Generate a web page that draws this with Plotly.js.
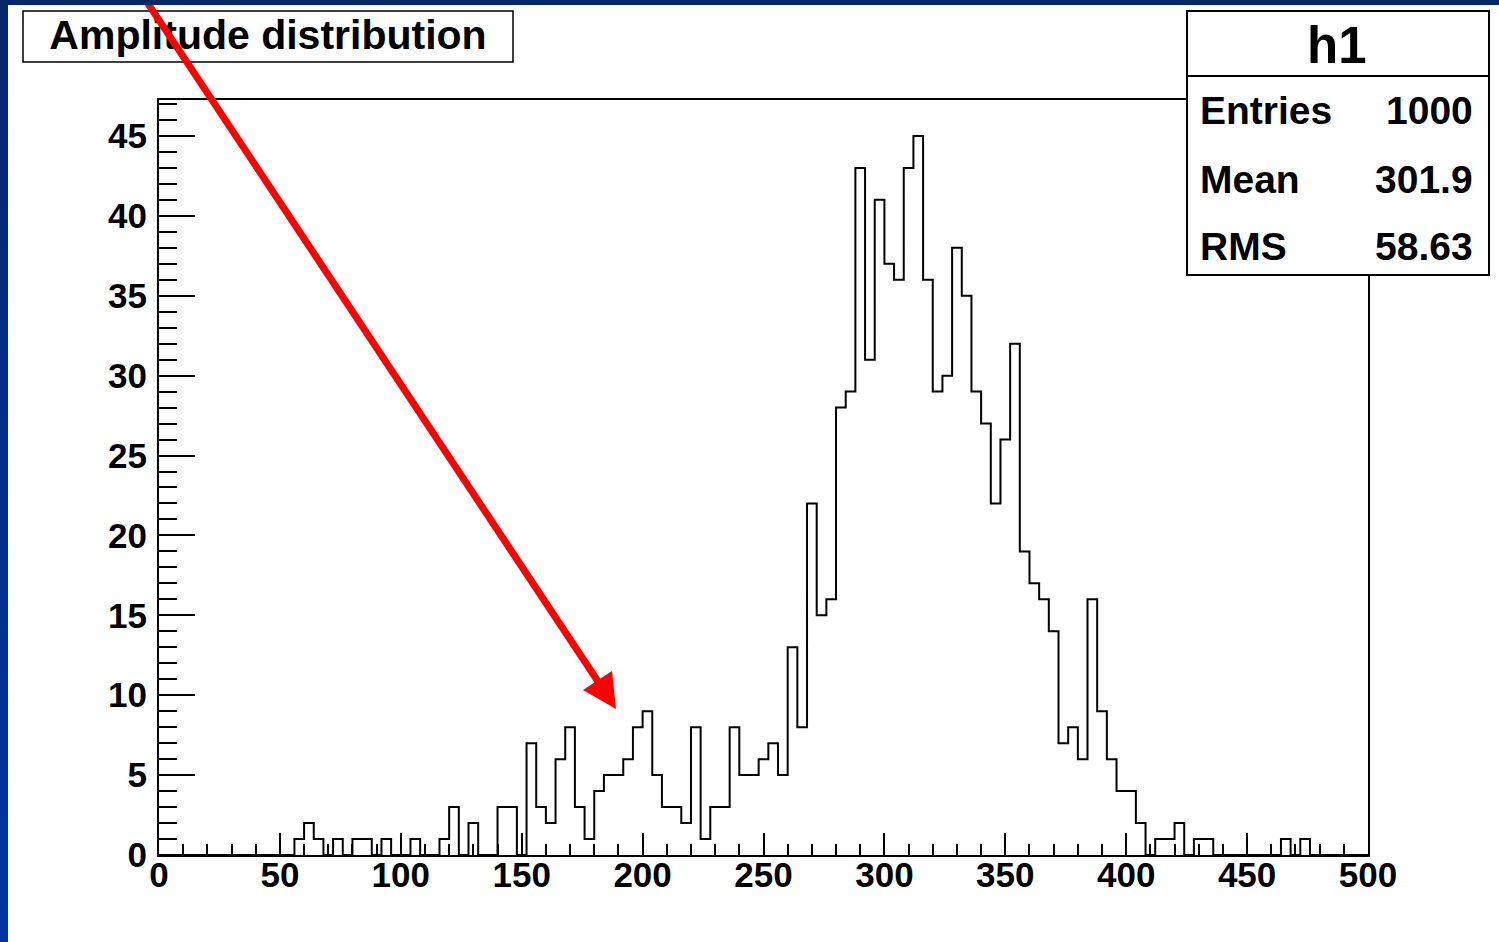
<!DOCTYPE html>
<html>
<head>
<meta charset="utf-8">
<script src="https://cdn.plot.ly/plotly-3.0.1.min.js"></script>
<style>
html,body{margin:0;padding:0;width:1499px;height:942px;overflow:hidden;
  background:linear-gradient(to bottom,#07266c,#0036a2);}
#plot{position:absolute;left:8px;top:5px;width:1491px;height:937px;background:#fff;}
</style>
</head>
<body>
<div id="plot"></div>
<script>
// ---- data ----
const histName = 'h1';
const titleText = 'Amplitude distribution';
const binLow = 0;
const binWidth = 4;
const counts = [
  0,0,0,0,0,0,0,0,0,0, 0,0,0,0,1,2,1,0,1,0,
  1,1,0,1,0,0,1,0,0,1, 3,0,2,0,0,3,3,0,7,3,
  2,6,8,3,1,4,5,5,6,8, 9,5,3,3,2,8,1,3,3,8,
  5,5,6,7,5,13,8,22,15,16, 28,29,43,31,41,37,36,43,45,36,
  29,30,38,35,29,27,22,26,32,19, 17,16,14,7,8,6,16,9,6,4,
  4,2,0,1,1,2,0,1,1,0, 0,0,0,0,0,0,1,0,1,0,
  0,0,0,0,0
];
const statLabels = ['Entries', 'Mean', 'RMS'];
const statValues = ['1000', '301.9', '58.63'];
const xRange = [0, 500];
const yRange = [0, 47.25];

// ---- build step outline from the bins ----
const edges = [];
const steps = [];
for (let i = 0; i < counts.length; i++) {
  edges.push(binLow + i * binWidth);
  steps.push(counts[i]);
}
edges.push(binLow + counts.length * binWidth);
steps.push(counts[counts.length - 1]);

// ---- helpers: page pixels -> paper coords (plot area 159..1368 x 100..855) ----
const PL = 159, PR = 1368, PT = 100, PB = 855;
const px = x => (x - PL) / (PR - PL);
const py = y => (PB - y) / (PB - PT);

const FONT = 'Liberation Sans, Arial, Helvetica, sans-serif';

const trace = {
  type: 'scatter', mode: 'lines',
  x: edges, y: steps,
  line: {shape: 'hv', color: '#000', width: 2},
  hoverinfo: 'skip', showlegend: false
};

const axisCommon = {
  showline: true, mirror: true, linecolor: '#000', linewidth: 2,
  ticks: 'inside', tickcolor: '#000', tickwidth: 2,
  showgrid: false, zeroline: false, fixedrange: true,
  tickfont: {family: FONT, size: 35, color: '#000', weight: 'bold'}
};

const layout = {
  width: 1491, height: 937,
  margin: {l: 151, r: 131, t: 95, b: 87, pad: 0},
  paper_bgcolor: '#fff', plot_bgcolor: '#fff',
  showlegend: false,
  xaxis: Object.assign({}, axisCommon, {
    range: xRange, tick0: 0, dtick: 50, ticklen: 22, ticklabelstandoff: -12,
    minor: {dtick: 10, ticks: 'inside', ticklen: 11, tickwidth: 2, tickcolor: '#000', showgrid: false}
  }),
  yaxis: Object.assign({}, axisCommon, {
    range: yRange, tick0: 0, dtick: 5, ticklen: 36, ticklabelstandoff: 3,
    minor: {dtick: 1, ticks: 'inside', ticklen: 18, tickwidth: 2, tickcolor: '#000', showgrid: false}
  }),
  shapes: [
    // title box
    {type: 'rect', xref: 'paper', yref: 'paper', layer: 'above',
     x0: px(23), x1: px(513), y0: py(62), y1: py(11),
     fillcolor: '#fff', line: {color: '#000', width: 1.5}},
    // title text (carried by an invisible box, nudged up)
    {type: 'rect', xref: 'paper', yref: 'paper', layer: 'above',
     x0: px(23), x1: px(513), y0: py(56), y1: py(5),
     fillcolor: 'rgba(0,0,0,0)', line: {width: 0},
     label: {text: '<b>' + titleText + '</b>', textposition: 'middle center',
             font: {family: FONT, size: 41, color: '#000'}}},
    // stats box
    {type: 'rect', xref: 'paper', yref: 'paper', layer: 'above',
     x0: px(1187), x1: px(1489), y0: py(275), y1: py(11),
     fillcolor: '#fff', line: {color: '#000', width: 2}},
    {type: 'line', xref: 'paper', yref: 'paper', layer: 'above',
     x0: px(1187), x1: px(1489), y0: py(76), y1: py(76),
     line: {color: '#000', width: 2}},
    // red arrow
    {type: 'line', xref: 'paper', yref: 'paper', layer: 'above',
     x0: px(139), y0: py(-10), x1: px(603), y1: py(689),
     line: {color: '#ff0000', width: 7}},
    {type: 'path', xref: 'paper', yref: 'paper', layer: 'above',
     path: 'M' + px(616) + ',' + py(709) + ' L' + px(583) + ',' + py(690) +
           ' L' + px(612) + ',' + py(671) + ' Z',
     fillcolor: '#ff0000', line: {width: 0}}
  ],
  annotations: []
};

layout.annotations.push({
  xref: 'paper', yref: 'paper', x: px(1337), y: py(46),
  xanchor: 'center', yanchor: 'middle', showarrow: false,
  text: histName, font: {family: FONT, size: 51, color: '#000', weight: 'bold'}
});
const rowY = [110.5, 179, 247];
statLabels.forEach((lab, i) => {
  layout.annotations.push({
    xref: 'paper', yref: 'paper', x: px(1198), y: py(rowY[i]),
    xanchor: 'left', yanchor: 'middle', showarrow: false,
    text: lab, font: {family: FONT, size: 39, color: '#000', weight: 'bold'}
  });
  layout.annotations.push({
    xref: 'paper', yref: 'paper', x: px(1475), y: py(rowY[i]),
    xanchor: 'right', yanchor: 'middle', showarrow: false,
    text: statValues[i], font: {family: FONT, size: 39, color: '#000', weight: 'bold'}
  });
});

Plotly.newPlot('plot', [trace], layout, {displayModeBar: false, staticPlot: true});
</script>
</body>
</html>
